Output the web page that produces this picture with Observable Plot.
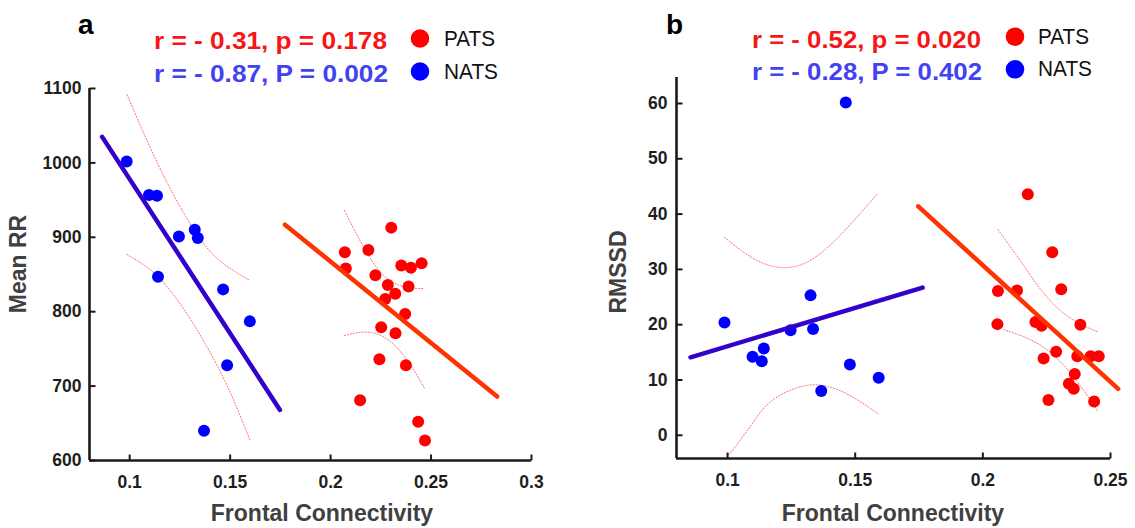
<!DOCTYPE html>
<html>
<head>
<meta charset="utf-8">
<script src="https://cdn.jsdelivr.net/npm/d3@7"></script>
<script src="https://cdn.jsdelivr.net/npm/@observablehq/plot@0.6"></script>
<style>
  html, body { margin: 0; padding: 0; background: #fff; }
  #wrap { position: relative; width: 1135px; height: 528px; overflow: hidden; font-family: "Liberation Sans", Arial, sans-serif; }
  .panel { position: absolute; top: 0; }
  #overlay { position: absolute; left: 0; top: 0; pointer-events: none; }
</style>
</head>
<body>
<div id="wrap">
  <div class="panel" id="pa" style="left:0px"></div>
  <div class="panel" id="pb" style="left:570px"></div>
  <svg id="overlay" width="1135" height="528"></svg>
</div>
<script>
// ---------- Panel a : Mean RR vs Frontal Connectivity ----------
const xDomainA = [0.08, 0.3];
const yDomainA = [600, 1100];
const xTicksA = [0.1, 0.15, 0.2, 0.25, 0.3];
const yTicksA = [600, 700, 800, 900, 1000, 1100];

const natsA_x = [0.0985, 0.1096, 0.1136, 0.1245, 0.1324, 0.1339, 0.1141, 0.1465, 0.1598, 0.1485, 0.1370];
const natsA_y = [1002, 957, 956, 901, 910, 899, 847, 830, 787, 728, 640];

const patsA_x = [0.2302, 0.2071, 0.2188, 0.2076, 0.2223, 0.2352, 0.2400, 0.2453, 0.2285, 0.2322,
                 0.2388, 0.2272, 0.2371, 0.2252, 0.2323, 0.2243, 0.2375, 0.2147, 0.2436, 0.2470];
const patsA_y = [913, 880, 883, 858, 849, 862, 859, 865, 836, 824,
                 834, 817, 797, 779, 771, 736, 728, 681, 652, 627];

const natsFitA_x = [0.0863, 0.1748];
const natsFitA_y = [1035, 668];
const patsFitA_x = [0.1773, 0.2829];
const patsFitA_y = [917, 686];

const natsCiUpA_x = [0.0986, 0.1149, 0.1315, 0.1432, 0.1598];
const natsCiUpA_y = [1092, 990, 909, 868, 842];
const natsCiLoA_x = [0.0986, 0.1149, 0.1315, 0.1482, 0.1598];
const natsCiLoA_y = [877, 851, 787, 707, 628];
const patsCiUpA_x = [0.2069, 0.2163, 0.2247, 0.2347, 0.2463];
const patsCiUpA_y = [936, 886, 850, 832, 831];
const patsCiLoA_x = [0.2069, 0.2180, 0.2280, 0.2380, 0.2468];
const patsCiLoA_y = [768, 775, 767, 738, 697];

// ---------- Panel b : RMSSD vs Frontal Connectivity ----------
const xDomainB = [0.08, 0.25];
const yDomainB = [-4.2, 64.7];
const xTicksB = [0.1, 0.15, 0.2, 0.25];
const yTicksB = [0, 10, 20, 30, 40, 50, 60];

const natsB_x = [0.0988, 0.1463, 0.1098, 0.1142, 0.1134, 0.1247, 0.1325, 0.1335, 0.1479, 0.1367, 0.1592];
const natsB_y = [20.4, 60.2, 14.2, 15.7, 13.4, 19.0, 25.3, 19.2, 12.8, 8.0, 10.4];

const patsB_x = [0.2176, 0.2272, 0.2059, 0.2134, 0.2307, 0.2057, 0.2206, 0.2230, 0.2382, 0.2287,
                 0.2238, 0.2370, 0.2422, 0.2454, 0.2360, 0.2337, 0.2356, 0.2257, 0.2436];
const patsB_y = [43.6, 33.1, 26.1, 26.2, 26.4, 20.1, 20.5, 19.8, 20.0, 15.1,
                 13.9, 14.3, 14.3, 14.3, 11.1, 9.3, 8.4, 6.4, 6.1];

const natsFitB_x = [0.0855, 0.1764];
const natsFitB_y = [14.1, 26.7];
const patsFitB_x = [0.1747, 0.2530];
const patsFitB_y = [41.4, 8.4];

const natsCiUpB_x = [0.0988, 0.1116, 0.1247, 0.1377, 0.1589];
const natsCiUpB_y = [35.8, 31.0, 29.7, 32.5, 43.8];
const natsCiLoB_x = [0.0998, 0.1106, 0.1155, 0.1325, 0.1469, 0.1589];
const natsCiLoB_y = [-4.0, 2.5, 6.3, 10.1, 7.8, 3.9];
const patsCiUpB_x = [0.2059, 0.2147, 0.2252, 0.2356, 0.2450];
const patsCiUpB_y = [37.2, 31.6, 24.4, 20.5, 18.7];
const patsCiLoB_x = [0.2082, 0.2187, 0.2278, 0.2370, 0.2448];
const patsCiLoB_y = [19.1, 17.5, 14.8, 9.9, 4.5];

// ---------- styles ----------
const RED = "#ff0000", BLUE = "#0000ff";
const RED_LINE = "#ff3300", BLUE_LINE = "#3300cc";
const CI = "#ff6f6f";
const AXIS = "#1a1a1a";

const zip = (xs, ys) => xs.map((x, i) => ({x, y: ys[i]}));

// inward tick marks drawn as custom dot symbols
const tickUp = {draw(ctx) { ctx.moveTo(0, 0); ctx.lineTo(0, -6); }};
const tickRight = {draw(ctx) { ctx.moveTo(0, 0); ctx.lineTo(6, 0); }};

function panel({xDomain, yDomain, xTicks, yTicks, width, margins, yPad,
                nats, pats, natsFit, patsFit, cis}) {
  const tickText = {fontSize: 17.5, fontWeight: "bold", fill: "#1e1e1e"};
  return Plot.plot({
    width, height: 528,
    marginLeft: margins[0], marginRight: margins[1], marginTop: margins[2], marginBottom: margins[3],
    style: {fontFamily: "Liberation Sans, Arial, sans-serif", background: "transparent", overflow: "visible"},
    x: {domain: xDomain, label: null},
    y: {domain: yDomain, label: null},
    marks: [
      ...cis.map(c => Plot.line(c, {x: "x", y: "y", stroke: CI, strokeWidth: 1, strokeDasharray: "1.2,1.8", curve: "basis"})),
      Plot.dot(nats, {x: "x", y: "y", r: 6, fill: BLUE}),
      Plot.dot(pats, {x: "x", y: "y", r: 6, fill: RED}),
      Plot.line(natsFit, {x: "x", y: "y", stroke: BLUE_LINE, strokeWidth: 4.5, clip: false}),
      Plot.line(patsFit, {x: "x", y: "y", stroke: RED_LINE, strokeWidth: 4.5, clip: false}),
      Plot.ruleY([yDomain[0]], {stroke: AXIS, strokeWidth: 2.6}),
      Plot.ruleX([xDomain[0]], {stroke: AXIS, strokeWidth: 2.6}),
      Plot.dot(xTicks, {x: d => d, y: () => yDomain[0], symbol: tickUp, r: 6, fill: "none", stroke: AXIS, strokeWidth: 2}),
      Plot.dot(yTicks, {y: d => d, x: () => xDomain[0], symbol: tickRight, r: 6, fill: "none", stroke: AXIS, strokeWidth: 2}),
      Plot.axisX(xTicks, {tickSize: 0, tickPadding: 15, ...tickText, tickFormat: d => String(d), label: null}),
      Plot.axisY(yTicks, {tickSize: 0, tickPadding: yPad - 6, ...tickText, tickFormat: d => String(d), label: null})
    ]
  });
}

document.getElementById("pa").append(panel({
  xDomain: xDomainA, yDomain: yDomainA, xTicks: xTicksA, yTicks: yTicksA,
  width: 560, margins: [89, 29, 88, 68], yPad: 14,
  nats: zip(natsA_x, natsA_y), pats: zip(patsA_x, patsA_y),
  natsFit: zip(natsFitA_x, natsFitA_y), patsFit: zip(patsFitA_x, patsFitA_y),
  cis: [zip(natsCiUpA_x, natsCiUpA_y), zip(natsCiLoA_x, natsCiLoA_y),
        zip(patsCiUpA_x, patsCiUpA_y), zip(patsCiLoA_x, patsCiLoA_y)]
}));

document.getElementById("pb").append(panel({
  xDomain: xDomainB, yDomain: yDomainB, xTicks: xTicksB, yTicks: yTicksB,
  width: 565, margins: [106, 25, 77, 70], yPad: 15,
  nats: zip(natsB_x, natsB_y), pats: zip(patsB_x, patsB_y),
  natsFit: zip(natsFitB_x, natsFitB_y), patsFit: zip(patsFitB_x, patsFitB_y),
  cis: [zip(natsCiUpB_x, natsCiUpB_y), zip(natsCiLoB_x, natsCiLoB_y),
        zip(patsCiUpB_x, patsCiUpB_y), zip(patsCiLoB_x, patsCiLoB_y)]
}));

// ---------- annotations ----------
const panelLabels = ["a", "b"];
const statsRed = ["r = - 0.31, p = 0.178", "r = - 0.52, p = 0.020"];
const statsBlue = ["r = - 0.87, P = 0.002", "r = - 0.28, P = 0.402"];
const legendNames = ["PATS", "NATS"];
const yTitles = ["Mean RR", "RMSSD"];
const xTitle = "Frontal Connectivity";

const ov = d3.select("#overlay").style("font-family", "Liberation Sans, Arial, sans-serif");
const layout = [
  {lab: [78, 34], stat: 154, statW: 233, red: 48.5, blue: 81.5, dot: 420, dRed: 38.5, dBlue: 71.5, leg: 444, lRed: 46, lBlue: 78.5, ytitle: [26, 264], xtitle: 322},
  {lab: [666, 34], stat: 752, statW: 229, red: 47.5, blue: 80, dot: 1015, dRed: 36.7, dBlue: 69.3, leg: 1038, lRed: 43.5, lBlue: 76, ytitle: [626, 272], xtitle: 893}
];
layout.forEach((L, i) => {
  ov.append("text").attr("x", L.lab[0]).attr("y", L.lab[1]).attr("font-size", 28).attr("font-weight", "bold").attr("fill", "#000").text(panelLabels[i]);
  ov.append("text").attr("x", L.stat).attr("y", L.red).attr("font-size", 24).attr("font-weight", "bold").attr("fill", "#f71616")
    .attr("textLength", L.statW).attr("lengthAdjust", "spacingAndGlyphs").text(statsRed[i]);
  ov.append("text").attr("x", L.stat).attr("y", L.blue).attr("font-size", 24).attr("font-weight", "bold").attr("fill", "#4242f4")
    .attr("textLength", L.statW + 1).attr("lengthAdjust", "spacingAndGlyphs").text(statsBlue[i]);
  ov.append("circle").attr("cx", L.dot).attr("cy", L.dRed).attr("r", 9.3).attr("fill", RED);
  ov.append("circle").attr("cx", L.dot).attr("cy", L.dBlue).attr("r", 9.3).attr("fill", BLUE);
  ov.append("text").attr("x", L.leg).attr("y", L.lRed).attr("font-size", 22).attr("fill", "#111")
    .attr("textLength", 51).attr("lengthAdjust", "spacingAndGlyphs").text(legendNames[0]);
  ov.append("text").attr("x", L.leg).attr("y", L.lBlue).attr("font-size", 22).attr("fill", "#111")
    .attr("textLength", 54).attr("lengthAdjust", "spacingAndGlyphs").text(legendNames[1]);
  ov.append("text").attr("transform", `translate(${L.ytitle[0]},${L.ytitle[1]}) rotate(-90)`).attr("text-anchor", "middle")
    .attr("font-size", 23).attr("font-weight", "bold").attr("fill", "#404040").text(yTitles[i]);
  ov.append("text").attr("x", L.xtitle).attr("y", 521).attr("text-anchor", "middle")
    .attr("font-size", 23).attr("font-weight", "bold").attr("fill", "#404040").text(xTitle);
});
</script>
</body>
</html>
